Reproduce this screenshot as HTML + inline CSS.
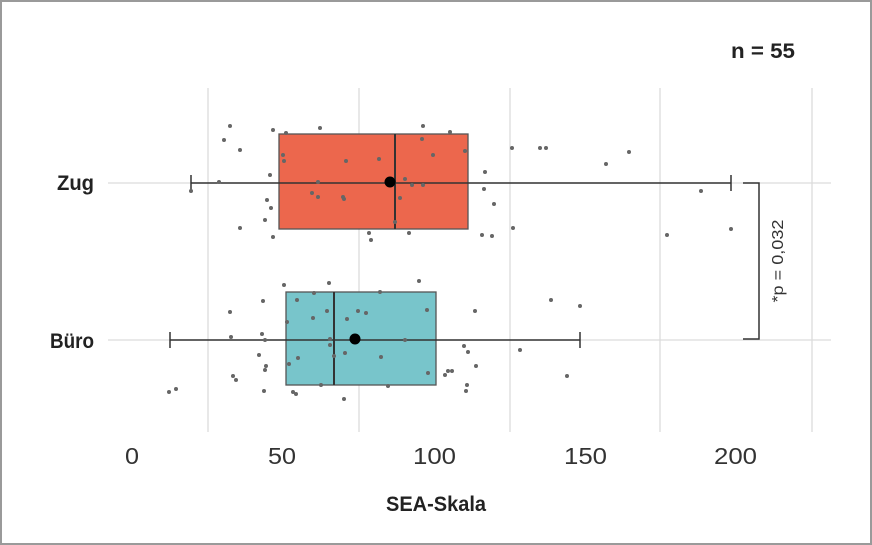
<!DOCTYPE html>
<html><head><meta charset="utf-8"><style>
html,body{margin:0;padding:0;background:#fff}
svg{display:block}
</style></head><body>
<svg width="872" height="545" viewBox="0 0 872 545" xmlns="http://www.w3.org/2000/svg">
<rect x="1" y="1" width="870" height="543" fill="#fff" stroke="#9a9a9a" stroke-width="2"/>
<g stroke="#dcdcdc" stroke-width="1.3">
<line x1="208" y1="88" x2="208" y2="432"/>
<line x1="359" y1="88" x2="359" y2="432"/>
<line x1="510" y1="88" x2="510" y2="432"/>
<line x1="660" y1="88" x2="660" y2="432"/>
<line x1="812" y1="88" x2="812" y2="432"/>
<line x1="108" y1="183" x2="831" y2="183"/>
<line x1="108" y1="340" x2="831" y2="340"/>
</g>
<rect x="279" y="134" width="189" height="95" fill="#ec674d" stroke="#555" stroke-width="1.3"/>
<rect x="286" y="292" width="150" height="93" fill="#78c5cb" stroke="#555" stroke-width="1.3"/>
<g stroke="#333" stroke-width="1.5">
<line x1="191" y1="183" x2="731" y2="183"/>
<line x1="191" y1="175" x2="191" y2="191"/>
<line x1="731" y1="175" x2="731" y2="191"/>
<line x1="395" y1="134" x2="395" y2="229" stroke-width="2"/>
<line x1="170" y1="340" x2="580" y2="340"/>
<line x1="170" y1="332" x2="170" y2="348"/>
<line x1="580" y1="332" x2="580" y2="348"/>
<line x1="334" y1="292" x2="334" y2="385" stroke-width="2"/>
<polyline points="743,183 759,183 759,339 743,339" fill="none"/>
</g>
<g fill="#666">
<circle cx="230" cy="126" r="2"/><circle cx="273" cy="130" r="2"/><circle cx="286" cy="133" r="2"/><circle cx="320" cy="128" r="2"/><circle cx="423" cy="126" r="2"/><circle cx="450" cy="132" r="2"/><circle cx="422" cy="139" r="2"/><circle cx="465" cy="151" r="2"/><circle cx="283" cy="155" r="2"/><circle cx="284" cy="161" r="2"/><circle cx="270" cy="175" r="2"/><circle cx="267" cy="200" r="2"/><circle cx="219" cy="182" r="2"/><circle cx="191" cy="191" r="2"/><circle cx="318" cy="182" r="2"/><circle cx="346" cy="161" r="2"/><circle cx="344" cy="199" r="2"/><circle cx="405" cy="179" r="2"/><circle cx="412" cy="185" r="2"/><circle cx="423" cy="185" r="2"/><circle cx="400" cy="198" r="2"/><circle cx="312" cy="193" r="2"/><circle cx="318" cy="197" r="2"/><circle cx="369" cy="233" r="2"/><circle cx="371" cy="240" r="2"/><circle cx="409" cy="233" r="2"/><circle cx="271" cy="208" r="2"/><circle cx="265" cy="220" r="2"/><circle cx="240" cy="228" r="2"/><circle cx="273" cy="237" r="2"/><circle cx="485" cy="172" r="2"/><circle cx="484" cy="189" r="2"/><circle cx="494" cy="204" r="2"/><circle cx="482" cy="235" r="2"/><circle cx="492" cy="236" r="2"/><circle cx="512" cy="148" r="2"/><circle cx="540" cy="148" r="2"/><circle cx="546" cy="148" r="2"/><circle cx="606" cy="164" r="2"/><circle cx="629" cy="152" r="2"/><circle cx="701" cy="191" r="2"/><circle cx="731" cy="229" r="2"/><circle cx="667" cy="235" r="2"/><circle cx="513" cy="228" r="2"/><circle cx="224" cy="140" r="2"/><circle cx="240" cy="150" r="2"/><circle cx="395" cy="222" r="2"/><circle cx="433" cy="155" r="2"/><circle cx="379" cy="159" r="2"/><circle cx="343" cy="197" r="2"/>
<circle cx="284" cy="285" r="2"/><circle cx="329" cy="283" r="2"/><circle cx="419" cy="281" r="2"/><circle cx="230" cy="312" r="2"/><circle cx="231" cy="337" r="2"/><circle cx="263" cy="301" r="2"/><circle cx="262" cy="334" r="2"/><circle cx="265" cy="340" r="2"/><circle cx="259" cy="355" r="2"/><circle cx="266" cy="366" r="2"/><circle cx="265" cy="370" r="2"/><circle cx="233" cy="376" r="2"/><circle cx="236" cy="380" r="2"/><circle cx="169" cy="392" r="2"/><circle cx="176" cy="389" r="2"/><circle cx="264" cy="391" r="2"/><circle cx="293" cy="392" r="2"/><circle cx="296" cy="394" r="2"/><circle cx="344" cy="399" r="2"/><circle cx="297" cy="300" r="2"/><circle cx="314" cy="293" r="2"/><circle cx="327" cy="311" r="2"/><circle cx="358" cy="311" r="2"/><circle cx="366" cy="313" r="2"/><circle cx="347" cy="319" r="2"/><circle cx="330" cy="339" r="2"/><circle cx="330" cy="345" r="2"/><circle cx="334" cy="356" r="2"/><circle cx="345" cy="353" r="2"/><circle cx="405" cy="340" r="2"/><circle cx="381" cy="357" r="2"/><circle cx="298" cy="358" r="2"/><circle cx="287" cy="322" r="2"/><circle cx="289" cy="364" r="2"/><circle cx="321" cy="385" r="2"/><circle cx="388" cy="386" r="2"/><circle cx="428" cy="373" r="2"/><circle cx="448" cy="371" r="2"/><circle cx="452" cy="371" r="2"/><circle cx="464" cy="346" r="2"/><circle cx="468" cy="352" r="2"/><circle cx="476" cy="366" r="2"/><circle cx="467" cy="385" r="2"/><circle cx="466" cy="391" r="2"/><circle cx="475" cy="311" r="2"/><circle cx="551" cy="300" r="2"/><circle cx="580" cy="306" r="2"/><circle cx="520" cy="350" r="2"/><circle cx="567" cy="376" r="2"/><circle cx="427" cy="310" r="2"/><circle cx="380" cy="292" r="2"/><circle cx="445" cy="375" r="2"/><circle cx="313" cy="318" r="2"/>
</g>
<circle cx="390" cy="182" r="5.5" fill="#000"/>
<circle cx="355" cy="339" r="5.5" fill="#000"/>
<g font-family="'Liberation Sans',sans-serif" fill="#222">
<text x="731" y="58" font-size="21" font-weight="bold" textLength="64" lengthAdjust="spacingAndGlyphs">n = 55</text>
<text x="57" y="190" font-size="21" font-weight="bold" textLength="37" lengthAdjust="spacingAndGlyphs">Zug</text>
<text x="50" y="348" font-size="21" font-weight="bold" textLength="44" lengthAdjust="spacingAndGlyphs">Büro</text>
<text x="386" y="511" font-size="21" font-weight="bold" textLength="100" lengthAdjust="spacingAndGlyphs">SEA-Skala</text>
<g font-size="23" fill="#333">
<text x="125" y="464" textLength="14" lengthAdjust="spacingAndGlyphs">0</text>
<text x="268" y="464" textLength="28" lengthAdjust="spacingAndGlyphs">50</text>
<text x="413" y="464" textLength="43" lengthAdjust="spacingAndGlyphs">100</text>
<text x="564" y="464" textLength="43" lengthAdjust="spacingAndGlyphs">150</text>
<text x="714" y="464" textLength="43" lengthAdjust="spacingAndGlyphs">200</text>
</g>
<text x="0" y="0" font-size="16" fill="#333" text-anchor="middle" textLength="83" lengthAdjust="spacingAndGlyphs" transform="translate(783,261) rotate(-90)">*p = 0,032</text>
</g>
</svg>
</body></html>
